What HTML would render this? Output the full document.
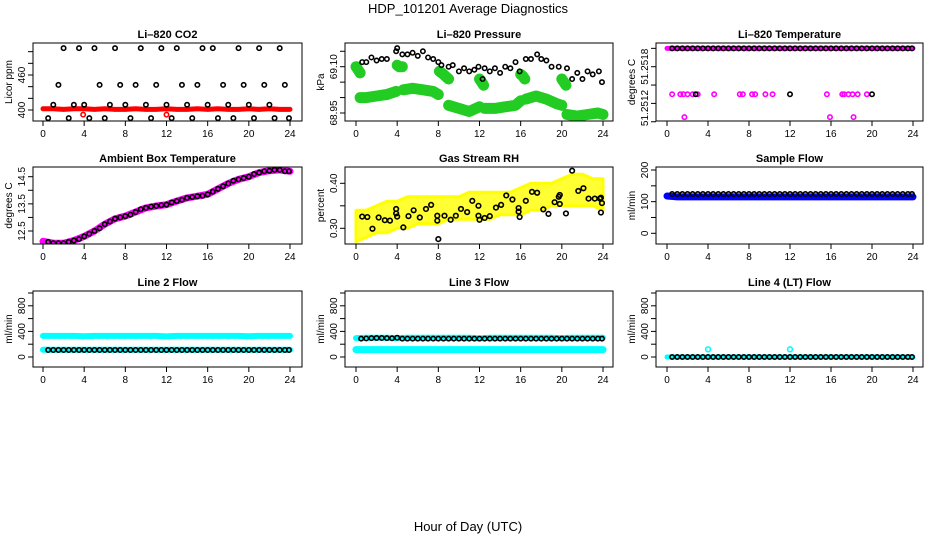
<!DOCTYPE html>
<html><head><meta charset="utf-8"><style>
html,body{margin:0;padding:0;background:#fff;}
svg{display:block;font-family:"Liberation Sans",Arial,sans-serif;}
</style></head><body>
<svg id="fig" width="936" height="540" viewBox="0 0 936 540" xmlns="http://www.w3.org/2000/svg">
<text x="468" y="13" text-anchor="middle" font-size="13">HDP_101201  Average Diagnostics</text>
<text x="468" y="531" text-anchor="middle" font-size="13">Hour of Day (UTC)</text>
</svg>
<script>
// ---- data ----
const hours = [0.5,1,1.5,2,2.5,3,3.5,4,4.5,5,5.5,6,6.5,7,7.5,8,8.5,9,9.5,10,10.5,11,11.5,12,12.5,13,13.5,14,14.5,15,15.5,16,16.5,17,17.5,18,18.5,19,19.5,20,20.5,21,21.5,22,22.5,23,23.5,23.9];
const bandHours = [0,1,2,3,4,5,6,7,8,9,10,11,12,13,14,15,16,17,18,19,20,21,22,23,24];
const xTicks = [0,4,8,12,16,20,24];

const co2Black = [386,409,443,506,386,409,506,409,386,506,443,386,409,506,443,409,386,443,506,409,386,443,506,409,386,506,443,409,386,443,506,409,506,386,443,409,386,506,443,409,386,506,443,409,386,506,443,386];
const co2Red = [402,402,401,402,402,401,402,401,401,402,401,401,402,401,401,402,401,402,401,401,402,401,402,401,401];

const presHours = [0.6,1,1.5,2,2.5,3,3.9,4,4.5,5,5.5,6,6.5,7,7.5,8,8.3,9,9.4,10,10.5,11,11.5,11.9,12.3,12.5,13,13.5,14,14.5,15,15.5,15.9,16.5,17,17.6,18,18.5,19,19.7,20.5,21,21.5,22,22.5,23,23.6,23.9];
const presBlack = [69.115,69.115,69.13,69.12,69.125,69.125,69.15,69.16,69.14,69.14,69.145,69.135,69.15,69.13,69.125,69.115,69.105,69.10,69.105,69.085,69.095,69.085,69.09,69.10,69.06,69.095,69.085,69.095,69.08,69.10,69.095,69.115,69.085,69.125,69.125,69.14,69.125,69.12,69.10,69.10,69.095,69.06,69.08,69.06,69.085,69.075,69.085,69.05];
const presGreenHours = [0,0.2,0.4,null,0.4,1,2,3,3.9,null,4,4.2,4.5,null,4.6,5.5,6.5,7.5,8,null,8.1,8.5,9,null,9,10,11,12,null,12,12.2,12.4,null,12.5,13.5,14.5,15.5,16,null,16,16.2,16.4,null,16.5,17.5,18.5,19.5,20,null,20,20.2,20.4,null,20.5,21.5,22.5,23.5,24];
const presGreen = [69.10,69.09,69.08,null,69.0,69.0,69.005,69.01,69.02,null,69.105,69.10,69.10,null,69.025,69.03,69.025,69.02,69.01,null,69.085,69.075,69.06,null,68.975,68.965,68.955,68.97,null,69.06,69.05,69.04,null,68.965,68.965,68.97,68.975,68.99,null,69.075,69.07,69.06,null,68.995,69.005,68.995,68.98,68.975,null,69.06,69.05,69.04,null,68.945,68.94,68.945,68.95,68.945];

const tempTop = 51.25200;
const tempBlackLowHours = [2.8,12,20];
const tempBlackLow = [51.25150,51.25150,51.25150];
const tempMagLowHours = [0.5,1.3,1.6,2,2.5,3,4.6,7.1,7.4,8.3,8.6,9.6,10.3,15.6,17.1,17.3,17.7,18.1,18.6,19.5,1.7,15.9,18.2];
const tempMagLow = [51.2515,51.2515,51.2515,51.2515,51.2515,51.2515,51.2515,51.2515,51.2515,51.2515,51.2515,51.2515,51.2515,51.2515,51.2515,51.2515,51.2515,51.2515,51.2515,51.2515,51.25125,51.25125,51.25125];

const ambBlack = [12.1,12.05,12.05,12.05,12.1,12.15,12.2,12.3,12.4,12.5,12.6,12.75,12.85,12.95,13.0,13.05,13.1,13.2,13.3,13.35,13.4,13.42,13.45,13.47,13.55,13.6,13.65,13.72,13.75,13.78,13.8,13.85,13.95,14.05,14.15,14.25,14.35,14.4,14.45,14.5,14.6,14.65,14.7,14.72,14.75,14.75,14.7,14.7];
const ambMag = [12.12,12.05,12.05,12.15,12.3,12.5,12.75,12.95,13.05,13.2,13.35,13.42,13.47,13.6,13.72,13.78,13.85,14.05,14.25,14.4,14.5,14.65,14.72,14.75,14.7];

const rhHours = [0.6,1.1,1.6,2.2,2.8,3.3,3.9,3.9,4,4.6,5.1,5.6,6.2,6.8,7.3,7.9,7.9,8,8.6,9.2,9.7,10.2,10.8,11.3,11.9,11.9,12,12.5,13,13.6,14.1,14.6,15.2,15.8,15.8,15.9,16.5,17.1,17.6,18.2,18.7,19.3,19.7,19.8,19.8,20.4,21,21.6,22.1,22.6,23.2,23.7,23.8,23.9,23.8];
const rhBlack = [.326,.325,.299,.324,.318,.317,.333,.343,.326,.302,.327,.340,.324,.343,.352,.317,.328,.276,.328,.319,.328,.343,.336,.361,.350,.328,.319,.323,.327,.346,.352,.373,.364,.345,.337,.325,.361,.381,.379,.342,.332,.358,.370,.374,.354,.333,.428,.383,.389,.366,.366,.366,.368,.356,.335];
const rhLow = [.27,.28,.29,.29,.30,.30,.31,.31,.31,.32,.32,.32,.32,.32,.33,.33,.33,.34,.34,.35,.35,.35,.35,.35,.34];
const rhHigh = [.34,.34,.35,.36,.36,.37,.37,.37,.37,.37,.37,.38,.38,.38,.38,.38,.39,.40,.40,.40,.41,.42,.42,.41,.41];

const sampleBlack = 124;
const sampleBlue = [118,115,115,115,115,115,115,115,115,115,115,115,115,115,115,115,115,115,115,115,115,115,115,115,115];

const l2CyanHigh = [330,330,330,330,325,330,330,330,330,330,330,330,322,330,330,330,330,330,330,330,325,330,330,330,330];
const l2CyanLow = [112,112,112,112,112,112,112,112,112,112,112,112,112,112,112,112,112,112,112,112,112,112,112,112,112];
const l2Black = 110;

const l3CyanHigh = [295,300,300,300,295,300,300,300,300,300,300,300,290,300,300,300,300,300,300,300,295,300,300,300,300];
const l3CyanLow = [115,115,115,115,115,115,115,115,115,115,115,115,115,115,115,115,115,115,115,115,115,115,115,115,115];
const l3Black = [287,290,295,297,297,295,292,300,287,287,287,287,287,287,287,287,287,287,287,287,287,287,287,287,287,287,287,287,287,287,287,287,287,287,287,287,287,287,287,287,287,287,287,287,287,287,287,287];

const l4Black = 0;
const l4CyanSpikeHours = [4,12];
const l4CyanSpike = [120,120];

// ---- drawing ----
const NS = "http://www.w3.org/2000/svg";
const svg = document.getElementById('fig');
function mk(tag, attrs, parent){const e=document.createElementNS(NS,tag);for(const k in attrs)e.setAttribute(k,attrs[k]);(parent||svg).appendChild(e);return e;}

const cols = [{bx0:33,bx1:302,h0:43,h24:290},{bx0:345,bx1:613,h0:356,h24:603},{bx0:656,bx1:923,h0:667,h24:913}];
const rows = [{by0:43,by1:121},{by0:167,by1:244},{by0:291,by1:367}];

function makePanel(name,ci,ri,title,ytitle,yfun,yticks,ylabels){
  const c=cols[ci], r=rows[ri];
  const g=mk('g',{});
  
  
  const X=h=>c.h0+h*(c.h24-c.h0)/24;
  const clipId='clip-'+name;
  const cp=mk('clipPath',{id:clipId},g);
  mk('rect',{x:c.bx0,y:r.by0,width:c.bx1-c.bx0,height:r.by1-r.by0},cp);
  const plot=mk('g',{'clip-path':'url(#'+clipId+')'},g);
  
  
  const box=mk('rect',{x:c.bx0,y:r.by0,width:c.bx1-c.bx0,height:r.by1-r.by0,fill:'none',stroke:'#000','stroke-width':1},g);
  
  
  const t=mk('text',{x:(c.bx0+c.bx1)/2,y:r.by0-5,'text-anchor':'middle','font-size':11,'font-weight':'bold'},g);
  t.textContent=title;
  
  
  const yt=mk('text',{x:0,y:0,'text-anchor':'middle','font-size':10,transform:`translate(${c.bx0-21},${(r.by0+r.by1)/2}) rotate(-90)`},g);
  yt.textContent=ytitle;
  
  
  xTicks.forEach(v=>{
    const x=X(v);
    const tk=mk('line',{x1:x,x2:x,y1:r.by1,y2:r.by1+5,stroke:'#000'},g);
    
    
    const tl=mk('text',{x:x,y:r.by1+16,'text-anchor':'middle','font-size':10},g);
    tl.textContent=v;
    
    
  });
  yticks.forEach(v=>{
    const y=yfun(v);
    const tk=mk('line',{x1:c.bx0-5,x2:c.bx0,y1:y,y2:y,stroke:'#000'},g);
    
    
  });
  ylabels.forEach(([v,s])=>{
    const y=yfun(v);
    const tl=mk('text',{x:0,y:0,'text-anchor':'middle','font-size':10,transform:`translate(${c.bx0-8},${y}) rotate(-90)`},g);
    tl.textContent=s;
    
    
  });
  return {X,Y:yfun,plot};
}
function pts(p,hs,vs,color,r,sw,nm){
  hs.forEach((h,i)=>{const v=Array.isArray(vs)?vs[i]:vs; if(v==null)return;
    const e=mk('circle',{cx:p.X(h),cy:p.Y(v),r:r||2.2,fill:'none',stroke:color,'stroke-width':sw||1.6},p.plot);
    
    
  });
}
function band(p,hs,vs,color,w,nm){
  let d='',pen=false;
  hs.forEach((h,i)=>{const v=Array.isArray(vs)?vs[i]:vs; if(h==null||v==null){pen=false;return;}
    d+=(pen?'L':'M')+p.X(h).toFixed(1)+' '+p.Y(v).toFixed(1)+' ';pen=true;});
  const e=mk('path',{d:d,fill:'none',stroke:color,'stroke-width':w,'stroke-linecap':'round','stroke-linejoin':'round'},p.plot);
  
  
}

// Panel 1 CO2
let p=makePanel('co2-panel',0,0,'Li\u2013820 CO2','Licor ppm',v=>110-(v-400)*35/60,[400,420,440,460,480,500],[[400,'400'],[460,'460']]);
band(p,bandHours,co2Red,'#ff0000',5,'co2-red-band');
pts(p,[3.9,12],[392,392],'#ff0000',2.2,1.6,'co2-red-point');
pts(p,hours,co2Black,'#000',2.2,1.6,'co2-black-point');

// Panel 2 pressure
p=makePanel('pressure-panel',1,0,'Li\u2013820 Pressure','kPa',v=>66.7-(v-69.10)*46.3/0.15,[68.95,69.0,69.05,69.10,69.15],[[68.95,'68.95'],[69.10,'69.10']]);
band(p,presGreenHours,presGreen,'#22cc22',11,'pressure-green-band');
pts(p,presHours,presBlack,'#000',2.2,1.6,'pressure-black-point');

// Panel 3 temperature
p=makePanel('li820-temp-panel',2,0,'Li\u2013820 Temperature','degrees C',v=>66.7-(v-51.2518)*18.35/0.0002,[51.2512,51.2514,51.2516,51.2518,51.2520],[[51.2518,'51.2518'],[51.25135,'51.2512']]);
band(p,[0,24],[tempTop,tempTop],'#ff00ff',5,'temp-magenta-band');
pts(p,hours,tempTop,'#000',2.2,1.6,'temp-black-point');
pts(p,tempMagLowHours,tempMagLow,'#ff00ff',2.2,1.6,'temp-magenta-point');
pts(p,tempBlackLowHours,tempBlackLow,'#000',2.2,1.6,'temp-black-low-point');

// Panel 4 ambient
p=makePanel('ambient-temp-panel',0,1,'Ambient Box Temperature','degrees C',v=>231-(v-12.5)*27.15,[12.5,13,13.5,14,14.5],[[12.5,'12.5'],[13.5,'13.5'],[14.5,'14.5']]);
band(p,bandHours,ambMag,'#ff00ff',7,'ambient-magenta-band');
pts(p,hours,ambBlack,'#000',2.2,1.6,'ambient-black-point');

// Panel 5 RH
p=makePanel('rh-panel',1,1,'Gas Stream RH','percent',v=>183.3-(v-0.40)*450,[0.30,0.35,0.40],[[0.30,'0.30'],[0.40,'0.40']]);
{
  let d='';
  bandHours.forEach((h,i)=>{d+=(i?'L':'M')+p.X(h).toFixed(1)+' '+p.Y(rhHigh[i]).toFixed(1)+' ';});
  for(let i=bandHours.length-1;i>=0;i--){d+='L'+p.X(bandHours[i]).toFixed(1)+' '+p.Y(rhLow[i]).toFixed(1)+' ';}
  const e=mk('path',{d:d+'Z',fill:'#ffff33',stroke:'#ffff00','stroke-width':3,'stroke-linejoin':'round'},p.plot);
  
  
}
pts(p,rhHours,rhBlack,'#000',2.3,1.6,'rh-black-point');

// Panel 6 sample flow
p=makePanel('sample-flow-panel',2,1,'Sample Flow','ml/min',v=>233.3-v*0.3165,[0,50,100,150,200],[[0,'0'],[100,'100'],[200,'200']]);
band(p,bandHours,sampleBlue,'#0000ff',7,'sample-blue-band');
pts(p,hours,sampleBlack,'#000',2.2,1.6,'sample-black-point');

// Panel 7 line 2
p=makePanel('line2-flow-panel',0,2,'Line 2 Flow','ml/min',v=>357-v*0.064,[0,200,400,600,800,1000],[[0,'0'],[400,'400'],[800,'800']]);
band(p,bandHours,l2CyanHigh,'#00ffff',6,'line2-cyan-high');
band(p,bandHours,l2CyanLow,'#00ffff',6,'line2-cyan-low');
pts(p,hours,l2Black,'#000',2.2,1.6,'line2-black-point');

// Panel 8 line 3
p=makePanel('line3-flow-panel',1,2,'Line 3 Flow','ml/min',v=>357-v*0.064,[0,200,400,600,800,1000],[[0,'0'],[400,'400'],[800,'800']]);
band(p,bandHours,l3CyanHigh,'#00ffff',6,'line3-cyan-high');
band(p,bandHours,l3CyanLow,'#00ffff',7,'line3-cyan-low');
pts(p,hours,l3Black,'#000',2.2,1.6,'line3-black-point');

// Panel 9 line 4
p=makePanel('line4-flow-panel',2,2,'Line 4 (LT) Flow','ml/min',v=>357-v*0.064,[0,200,400,600,800,1000],[[0,'0'],[400,'400'],[800,'800']]);
band(p,[0,24],[0,0],'#00ffff',5,'line4-cyan-band');
pts(p,hours,l4Black,'#000',2.2,1.6,'line4-black-point');
pts(p,l4CyanSpikeHours,l4CyanSpike,'#00ffff',2.4,1.6,'line4-cyan-spike');
</script>
</body></html>
